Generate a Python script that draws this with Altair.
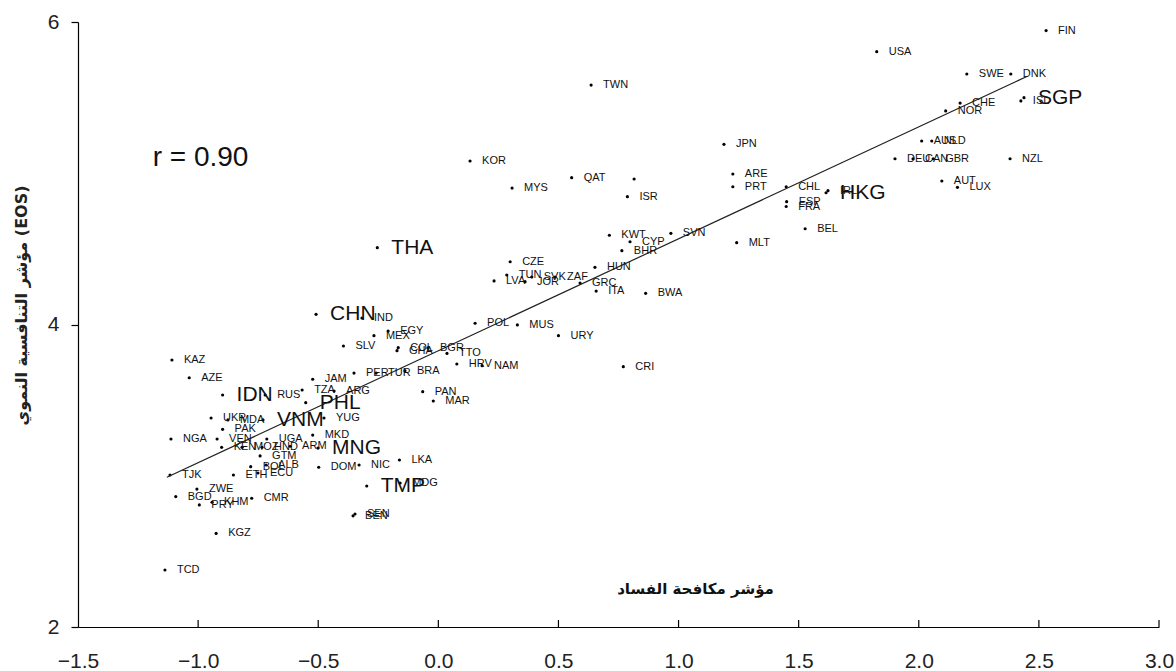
import altair as alt
import pandas as pd

# country codes, corruption-control index (x) and growth competitiveness index (y)
codes = ["FIN", "USA", "SWE", "DNK", "CHE", "NOR", "ISL", "SGP", "AUS", "NLD",
         "DEU", "CAN", "GBR", "NZL", "AUT", "LUX", "TWN", "JPN", "QAT", "",
         "ISR", "KOR", "MYS", "ARE", "PRT", "CHL", "ESP", "FRA", "HKG", "IRL",
         "BEL", "KWT", "SVN", "MLT", "CYP", "BHR", "THA", "CZE", "TUN", "SVK",
         "LVA", "JOR", "ZAF", "GRC", "ITA", "HUN", "BWA", "CHN", "IND", "EGY",
         "MEX", "SLV", "COL", "GHA", "BGR", "TTO", "HRV", "NAM", "POL", "MUS",
         "URY", "CRI", "PAN", "MAR", "BRA", "PER", "TUR", "ARG", "TZA", "JAM",
         "KAZ", "AZE", "IDN", "RUS", "PHL", "YUG", "VNM", "UKR", "MDA", "PAK",
         "NGA", "VEN", "UGA", "MKD", "KEN", "MOZ", "HND", "ARM", "MNG", "GTM",
         "BOL", "ALB", "ETH", "ECU", "TJK", "DOM", "NIC", "LKA", "TMP", "MDG",
         "SEN", "BEN", "ZWE", "BGD", "PRY", "KHM", "CMR", "KGZ", "TCD"]

corruption = [2.530, 1.825, 2.200, 2.383, 2.172, 2.112, 2.425, 2.438, 2.012, 2.054,
              1.901, 1.976, 2.060, 2.380, 2.096, 2.161, 0.636, 1.189, 0.555, 0.815,
              0.787, 0.132, 0.307, 1.226, 1.226, 1.448, 1.450, 1.448, 1.614, 1.622,
              1.527, 0.712, 0.968, 1.242, 0.798, 0.764, -0.254, 0.299, 0.285, 0.389,
              0.232, 0.361, 0.486, 0.590, 0.657, 0.652, 0.863, -0.509, -0.318, -0.209,
              -0.268, -0.395, -0.167, -0.172, -0.043, 0.036, 0.077, 0.182, 0.153, 0.329,
              0.500, 0.770, -0.065, -0.021, -0.139, -0.351, -0.259, -0.434, -0.567, -0.523,
              -1.109, -1.037, -0.898, -0.721, -0.552, -0.476, -0.730, -0.946, -0.876, -0.898,
              -1.113, -0.921, -0.714, -0.523, -0.902, -0.817, -0.734, -0.617, -0.501, -0.742,
              -0.781, -0.717, -0.853, -0.751, -1.117, -0.498, -0.330, -0.162, -0.298, -0.159,
              -0.347, -0.355, -1.005, -1.093, -0.995, -0.942, -0.777, -0.925, -1.138]

competitiveness = [5.943, 5.804, 5.656, 5.656, 5.464, 5.412, 5.478, 5.500, 5.213, 5.213,
                   5.096, 5.096, 5.096, 5.096, 4.949, 4.907, 5.583, 5.191, 4.971, 4.962,
                   4.845, 5.081, 4.902, 4.995, 4.911, 4.911, 4.812, 4.780, 4.871, 4.885,
                   4.633, 4.590, 4.603, 4.541, 4.547, 4.488, 4.508, 4.415, 4.327, 4.314,
                   4.288, 4.283, 4.314, 4.274, 4.221, 4.378, 4.206, 4.067, 4.043, 3.957,
                   3.926, 3.858, 3.847, 3.827, 3.845, 3.809, 3.739, 3.728, 4.008, 3.997,
                   3.926, 3.721, 3.556, 3.494, 3.695, 3.679, 3.679, 3.560, 3.567, 3.638,
                   3.765, 3.648, 3.534, 3.534, 3.483, 3.382, 3.369, 3.382, 3.369, 3.307,
                   3.243, 3.243, 3.243, 3.269, 3.188, 3.188, 3.188, 3.195, 3.183, 3.131,
                   3.060, 3.071, 3.005, 3.018, 3.005, 3.056, 3.071, 3.104, 2.932, 2.952,
                   2.747, 2.735, 2.912, 2.862, 2.807, 2.825, 2.851, 2.619, 2.377]

highlighted = ["THA", "CHN", "IDN", "VNM", "PHL", "MNG", "TMP", "HKG", "SGP"]

# trend line end points
trend_x = [-1.13, 2.45]
trend_y = [2.99, 5.64]

x_ticks = [-1.5, -1.0, -0.5, 0.0, 0.5, 1.0, 1.5, 2.0, 2.5, 3.0]
y_ticks = [2, 4, 6]

r_label = "r = 0.90"
r_pos = {"x": -0.99, "y": 5.10}

x_title = "مؤشر مكافحة الفساد"
y_title = "مؤشر التنافسية النموي   (EOS)"

df = pd.DataFrame({"code": codes, "x": corruption, "y": competitiveness})
df["big"] = df["code"].isin(highlighted)

trend_df = pd.DataFrame({"x": trend_x, "y": trend_y})
tick_df = pd.DataFrame({"v": x_ticks[1:]})
r_df = pd.DataFrame({"x": [r_pos["x"]], "y": [r_pos["y"]], "t": [r_label]})

W, H = 1081, 605

xs = alt.Scale(domain=[-1.5, 3.0], nice=False, zero=False)
ys = alt.Scale(domain=[2, 6], nice=False, zero=False)

x_axis = alt.Axis(values=x_ticks, format=".1f", grid=False, ticks=False,
                  domainColor="#000", domainWidth=1.2,
                  labelFont="Liberation Sans", labelFontSize=21, labelColor="#222",
                  labelPadding=23, labelFlush=False, labelOverlap=False,
                  title=x_title, titleFont="DejaVu Sans", titleFontSize=15,
                  titleFontWeight="bold", titleColor="#111",
                  titleX=617, titleY=-39, titleBaseline="middle", titleAlign="center")

y_axis = alt.Axis(values=y_ticks, format="d", grid=False, ticks=True, tickSize=7,
                  tickColor="#000", tickWidth=1.2,
                  domainColor="#000", domainWidth=1.2,
                  labelFont="Liberation Sans", labelFontSize=21, labelColor="#222",
                  labelPadding=12, labelFlush=False, labelOverlap=False,
                  title=y_title, titleFont="DejaVu Sans", titleFontSize=16,
                  titleFontWeight="bold", titleColor="#222", titleAngle=-90,
                  titleX=-57, titleY=283, titleBaseline="middle", titleAlign="center")

base = alt.Chart(df)

points = base.mark_circle(size=10, color="#000", opacity=1).encode(
    x=alt.X("x:Q", scale=xs, axis=x_axis),
    y=alt.Y("y:Q", scale=ys, axis=y_axis),
)

small_labels = base.transform_filter("!datum.big").mark_text(
    align="left", baseline="middle", dx=12, font="Liberation Sans",
    fontSize=11, color="#111"
).encode(x=alt.X("x:Q", scale=xs), y=alt.Y("y:Q", scale=ys), text="code:N")

big_labels = base.transform_filter("datum.big").mark_text(
    align="left", baseline="middle", dx=14, font="Liberation Sans",
    fontSize=21, color="#111"
).encode(x=alt.X("x:Q", scale=xs), y=alt.Y("y:Q", scale=ys), text="code:N")

trend = alt.Chart(trend_df).mark_line(color="#222", strokeWidth=1.2).encode(
    x=alt.X("x:Q", scale=xs), y=alt.Y("y:Q", scale=ys)
)

x_tick_marks = alt.Chart(tick_df).mark_rule(color="#000", strokeWidth=1.2).encode(
    x=alt.X("v:Q", scale=xs), y=alt.value(H), y2=alt.value(H - 7)
)

r_text = alt.Chart(r_df).mark_text(
    align="center", baseline="middle", font="Liberation Sans", fontSize=28, color="#111"
).encode(x=alt.X("x:Q", scale=xs), y=alt.Y("y:Q", scale=ys), text="t:N")

chart = alt.layer(points, trend, small_labels, big_labels, x_tick_marks, r_text).properties(
    width=W, height=H,
    padding={"left": 78, "top": 22, "right": 17, "bottom": 44},
    autosize=alt.AutoSizeParams(type="none"),
    background="white",
).configure_view(stroke=None)

chart.save("out.html", embed_options={"renderer": "svg", "actions": False})
